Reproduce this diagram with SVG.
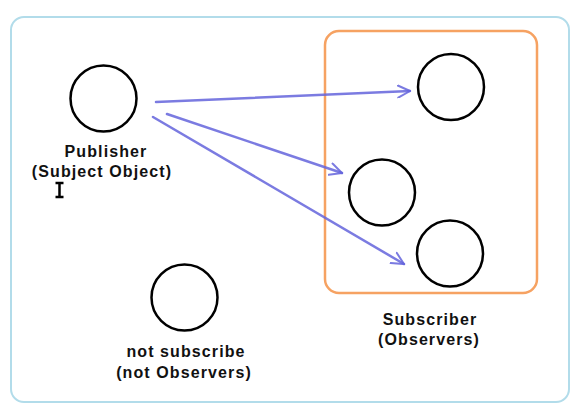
<svg xmlns="http://www.w3.org/2000/svg" width="576" height="409" viewBox="0 0 576 409">
<style>
.node circle{fill:#fff;stroke:#000;stroke-width:2.5}
.lbl{font-family:"Liberation Sans",Arial,sans-serif;font-weight:bold;font-size:16px;letter-spacing:1.1px;fill:#111;text-anchor:middle}
.conn line{stroke:#6464dc;stroke-width:2.5;stroke-opacity:0.85;stroke-linecap:round}
</style>
<defs>
<marker id="ah" viewBox="0 0 14 14" refX="13" refY="7" markerWidth="14" markerHeight="14" markerUnits="userSpaceOnUse" orient="auto">
<path d="M1,1 L13,7 L1,13" fill="none" stroke="#6464dc" stroke-width="2" stroke-opacity="0.85" stroke-linecap="round"/>
</marker>
</defs>
<rect width="576" height="409" fill="#fff"/>
<rect id="frame" x="11" y="17" width="558" height="385" rx="13" fill="none" stroke="#b2dcea" stroke-width="2"/>
<g id="subscriber-group">
<rect x="325" y="31" width="212" height="262" rx="14" fill="none" stroke="#f6a262" stroke-width="2.5"/>
<text class="lbl" x="430" y="325">Subscriber</text>
<text class="lbl" x="429" y="345">(Observers)</text>
</g>
<g id="publisher" class="node">
<circle cx="103.5" cy="98.5" r="33"/>
<text class="lbl" x="106" y="157">Publisher</text>
<text class="lbl" x="102" y="177">(Subject Object)</text>
</g>
<g id="observer1" class="node"><circle cx="451" cy="87" r="33"/></g>
<g id="observer2" class="node"><circle cx="382" cy="192.5" r="33"/></g>
<g id="observer3" class="node"><circle cx="450" cy="253.5" r="33"/></g>
<g id="not-subscriber" class="node">
<circle cx="184.5" cy="297.5" r="33"/>
<text class="lbl" x="186" y="357">not subscribe</text>
<text class="lbl" x="184" y="378">(not Observers)</text>
</g>
<g id="connectors" class="conn">
<line x1="156" y1="102" x2="410" y2="91" marker-end="url(#ah)"/>
<line x1="167" y1="114" x2="342" y2="173" marker-end="url(#ah)"/>
<line x1="153" y1="117" x2="404" y2="264" marker-end="url(#ah)"/>
</g>
<g id="cursor" stroke="#000" stroke-width="2.5" fill="none">
<path d="M55.5,183 H63.5 M59.5,183 V197 M55.5,197 H63.5"/>
</g>
</svg>
